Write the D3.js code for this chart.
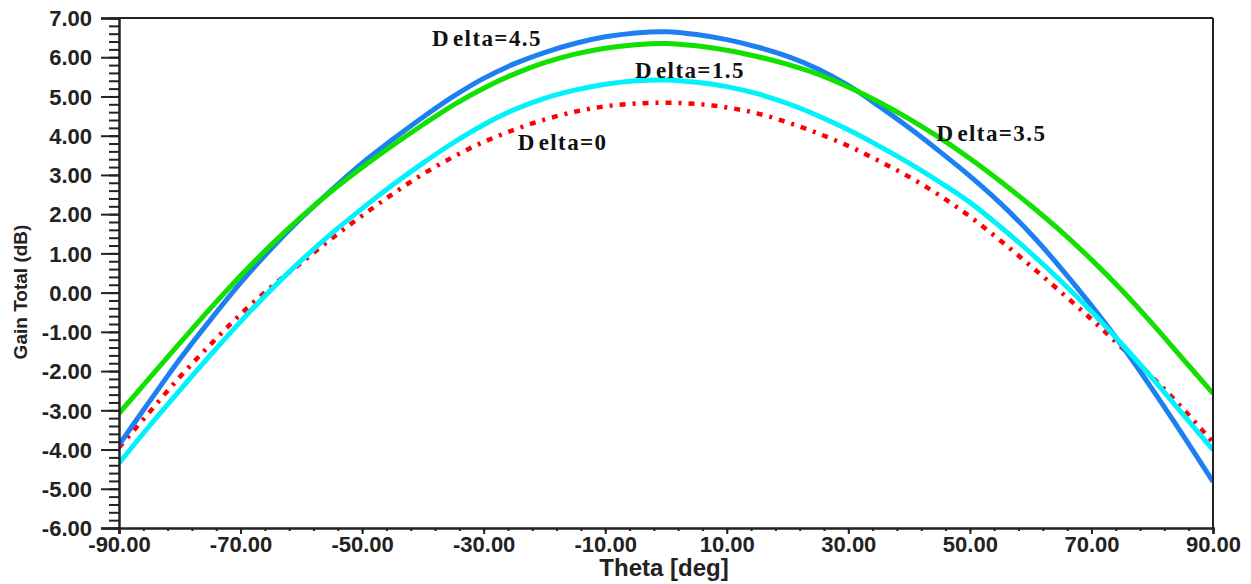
<!DOCTYPE html>
<html><head><meta charset="utf-8">
<script src="https://cdn.jsdelivr.net/npm/d3@7"></script>
<style>
body{margin:0;background:#fff;}
svg{display:block;}
</style></head>
<body>
<svg id="chart" width="1251" height="584"></svg>
<script>
const theta = [-90,-85,-80,-75,-70,-65,-60,-55,-50,-45,-40,-35,-30,-25,-20,-15,-10,-5,0,5,10,15,20,25,30,35,40,45,50,55,60,65,70,75,80,85,90];
const delta0  = [-3.95,-3.05,-2.15,-1.33,-0.55,0.14,0.76,1.38,1.96,2.51,3.02,3.46,3.84,4.15,4.41,4.61,4.75,4.82,4.84,4.81,4.72,4.57,4.34,4.06,3.74,3.36,2.95,2.48,1.94,1.33,0.68,0.01,-0.68,-1.40,-2.15,-2.95,-3.82];
const delta15 = [-4.35,-3.40,-2.49,-1.60,-0.74,0.07,0.82,1.51,2.14,2.74,3.30,3.82,4.28,4.66,4.95,5.16,5.31,5.40,5.42,5.36,5.25,5.07,4.82,4.51,4.15,3.74,3.30,2.82,2.30,1.68,1.01,0.29,-0.48,-1.31,-2.18,-3.09,-4.01];
const delta35 = [-3.08,-2.18,-1.29,-0.41,0.43,1.21,1.93,2.59,3.19,3.75,4.28,4.78,5.21,5.57,5.86,6.08,6.23,6.32,6.35,6.29,6.18,6.02,5.82,5.57,5.24,4.86,4.43,3.95,3.42,2.84,2.22,1.56,0.84,0.06,-0.79,-1.68,-2.57];
const delta45 = [-3.88,-2.78,-1.70,-0.70,0.25,1.11,1.90,2.62,3.30,3.90,4.47,5.00,5.46,5.83,6.12,6.35,6.52,6.62,6.65,6.58,6.45,6.26,6.02,5.70,5.28,4.76,4.20,3.60,2.97,2.28,1.50,0.62,-0.33,-1.35,-2.46,-3.62,-4.82];
const xTicks = [-90,-70,-50,-30,-10,10,30,50,70,90];
const yTicks = [7,6,5,4,3,2,1,0,-1,-2,-3,-4,-5,-6];
const seriesNames = ["Delta=0","Delta=1.5","Delta=3.5","Delta=4.5"];
const xTitle = "Theta [deg]";
const yTitle = "Gain Total (dB)";

const svg = d3.select("#chart");
const L = 119, R = 1213, T = 18, B = 528;
const x = d3.scaleLinear().domain([-90, 90]).range([L, R]);
const y = d3.scaleLinear().domain([-6, 7]).range([B, T]);
const fmt = v => v.toFixed(2);

svg.append("rect").attr("width",1251).attr("height",584).attr("fill","#fff");

svg.append("clipPath").attr("id","clip").append("rect")
  .attr("x",L).attr("y",T).attr("width",R-L).attr("height",B-T);

const series = [
  {name:seriesNames[0], vals:delta0,  color:"#ff0000", dash:"6,7,3,7"},
  {name:seriesNames[3], vals:delta45, color:"#1e80f0", dash:null},
  {name:seriesNames[2], vals:delta35, color:"#11e000", dash:null},
  {name:seriesNames[1], vals:delta15, color:"#00f2fa", dash:null}
];
const line = d3.line().x((d,i)=>x(theta[i])).y(d=>y(d)).curve(d3.curveCatmullRom);
const g = svg.append("g").attr("clip-path","url(#clip)");
series.forEach(s=>{
  const p = g.append("path").datum(s.vals).attr("d",line)
    .attr("fill","none").attr("stroke",s.color).attr("stroke-width",5);
  if (s.dash) p.attr("stroke-dasharray",s.dash).attr("stroke-width",4.5);
});

svg.append("line").attr("x1",L).attr("x2",R).attr("y1",T).attr("y2",T).attr("stroke","#222").attr("stroke-width",2);
svg.append("line").attr("x1",R).attr("x2",R).attr("y1",T).attr("y2",B).attr("stroke","#222").attr("stroke-width",2);

const yMinor = d3.range(0,66).map(i=>-6+i*0.2);
const xMinor = d3.range(0,46).map(i=>-90+i*4);
svg.append("g").attr("transform",`translate(${L},0)`)
  .call(d3.axisLeft(y).tickValues(yMinor).tickSize(10).tickFormat(""))
  .call(a=>{a.select(".domain").remove(); a.selectAll("line").attr("stroke","#222").attr("stroke-width",2);});
svg.append("g").attr("transform",`translate(0,${B})`)
  .call(d3.axisBottom(x).tickValues(xMinor).tickSize(3).tickFormat(""))
  .call(a=>{a.select(".domain").remove(); a.selectAll("line").attr("stroke","#222").attr("stroke-width",2);});

const ya = svg.append("g").attr("transform",`translate(${L},0)`)
  .call(d3.axisLeft(y).tickValues(yTicks).tickSize(18).tickPadding(9).tickFormat(fmt));
ya.select(".domain").attr("stroke","#222").attr("stroke-width",2.5);
ya.selectAll("line").attr("stroke","#222").attr("stroke-width",2);
ya.selectAll("text").attr("font-family","Liberation Sans, Arial, sans-serif").attr("font-weight","bold")
  .attr("font-size",22).attr("fill","#222").attr("dy","0.35em");

const xa = svg.append("g").attr("transform",`translate(0,${B})`)
  .call(d3.axisBottom(x).tickValues(xTicks).tickSize(6).tickPadding(2).tickFormat(fmt));
xa.select(".domain").attr("stroke","#222").attr("stroke-width",2.5);
xa.selectAll("line").attr("stroke","#222").attr("stroke-width",2);
xa.selectAll("text").attr("font-family","Liberation Sans, Arial, sans-serif").attr("font-weight","bold")
  .attr("font-size",22).attr("fill","#222");

svg.append("text").attr("x",(L+R)/2 - 2).attr("y",576).attr("text-anchor","middle")
  .attr("font-family","Liberation Sans, Arial, sans-serif").attr("font-weight","bold")
  .attr("font-size",24).attr("fill","#222").text(xTitle);
svg.append("text").attr("transform","translate(27,292) rotate(-90)").attr("text-anchor","middle")
  .attr("font-family","Liberation Sans, Arial, sans-serif").attr("font-weight","bold")
  .attr("font-size",19).attr("fill","#222").text(yTitle);

const labels = [
  {t:seriesNames[3], th:-38.5, v:6.29},
  {t:seriesNames[1], th:-5.1,  v:5.47},
  {t:seriesNames[0], th:-24.4, v:3.64},
  {t:seriesNames[2], th:44.5,  v:3.86}
];
labels.forEach(l=>{
  const t = svg.append("text").attr("x",x(l.th)).attr("y",y(l.v))
    .attr("font-family","Liberation Serif, Times New Roman, serif").attr("font-weight","bold")
    .attr("font-size",23).attr("letter-spacing","1.4px").attr("fill","#111");
  t.append("tspan").text(l.t.slice(0,1));
  t.append("tspan").attr("dx",3).text(l.t.slice(1));
});
</script>
</body></html>
